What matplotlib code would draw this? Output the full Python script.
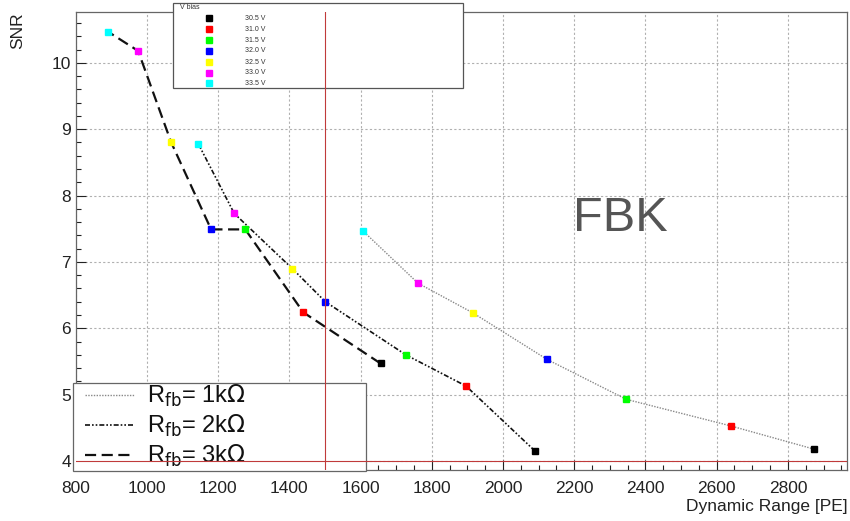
import matplotlib
matplotlib.use("Agg")
import matplotlib.pyplot as plt
from matplotlib.patches import Rectangle
from matplotlib.lines import Line2D
from matplotlib.ticker import MultipleLocator

plt.rcParams['font.family'] = ['Liberation Sans', 'DejaVu Sans']

vbias_labels = ["30.5 V", "31.0 V", "31.5 V", "32.0 V", "32.5 V", "33.0 V", "33.5 V"]
vbias_colors = ["#000000", "#ff0000", "#00ff00", "#0000ff", "#ffff00", "#ff00ff", "#00ffff"]

# points ordered from 30.5 V to 33.5 V
dr_1k = [2873, 2639, 2346, 2124, 1916, 1761, 1606]
snr_1k = [4.18, 4.53, 4.93, 5.53, 6.23, 6.68, 7.47]
dr_2k = [2090, 1896, 1727, 1501, 1408, 1245, 1144]
snr_2k = [4.15, 5.13, 5.60, 6.40, 6.90, 7.73, 8.78]
dr_3k = [1656, 1439, 1276, 1180, 1068, 975, 890]
snr_3k = [5.47, 6.24, 7.49, 7.49, 8.80, 10.18, 10.47]

series_labels = [r"R$_{\rm fb}$= 1k$\Omega$", r"R$_{\rm fb}$= 2k$\Omega$", r"R$_{\rm fb}$= 3k$\Omega$"]

W, H = 850, 521
fig = plt.figure(figsize=(W / 100, H / 100), dpi=100)
L, R, T, B = 75.8, 847, 11.7, 470
ax = fig.add_axes([L / W, 1 - B / H, (R - L) / W, (B - T) / H])
ax.set_xlim(800, 2966)
ax.set_ylim(3.865, 10.77)

ax.grid(True, which='major', color='#b0b0b0', linestyle=(0, (2, 2)), linewidth=0.8)
ax.set_axisbelow(True)
ax.xaxis.set_major_locator(MultipleLocator(200))
ax.xaxis.set_minor_locator(MultipleLocator(50))
ax.yaxis.set_major_locator(MultipleLocator(1))
ax.yaxis.set_minor_locator(MultipleLocator(0.2))
ax.tick_params(which='both', direction='in', top=False, right=False, labelsize=12.5, colors='#222222')
ax.tick_params(which='major', length=7, width=0.8)
ax.tick_params(which='minor', length=3.5, width=0.8)
ax.tick_params(axis='x', pad=8)
for s in ax.spines.values():
    s.set_color('#666666')
    s.set_linewidth(0.9)

line_styles = [
    dict(color='#888888', linestyle=(0, (1, 1)), linewidth=1.0),
    dict(color='#111111', linestyle=(0, (3, 1.2, 1, 1.2, 1, 1.2)), linewidth=1.2),
    dict(color='#111111', linestyle=(0, (5, 2.5)), linewidth=1.6),
]
for (xs, ys), st in zip([(dr_1k, snr_1k), (dr_2k, snr_2k), (dr_3k, snr_3k)], line_styles):
    ax.plot(xs, ys, zorder=3, **st)
    for x, y, c in zip(xs, ys, vbias_colors):
        ax.plot([x], [y], marker='s', markersize=5.0, color=c, markeredgecolor=c, linestyle='none', zorder=4)

ft = fig.transFigure
def fx(px):
    return px / W
def fy(py):
    return 1 - py / H

fig.text(fx(620), fy(218), "FBK", fontsize=35, color='#555555', ha='center', va='center')

# Top legend (V bias)
ax.add_patch(Rectangle((fx(172.7), fy(88)), fx(463) - fx(172.7), fy(2.7) - fy(88), transform=ft,
                       facecolor='white', edgecolor='#555555', linewidth=0.9, clip_on=False, zorder=6))
ax.text(fx(180), fy(7.5), "V bias", transform=ft, fontsize=5, ha='left', va='center', zorder=7, color='#333333')
rows = [18.3, 29.3, 40.3, 51.0, 62.0, 72.7, 83.3]
for py, c, lab in zip(rows, vbias_colors, vbias_labels):
    ax.add_line(Line2D([fx(209)], [fy(py)], transform=ft, marker='s', markersize=5, color=c,
                       linestyle='none', clip_on=False, zorder=7))
    ax.text(fx(245), fy(py), lab, transform=ft, fontsize=5, ha='left', va='center', zorder=7, color='#333333')

# Bottom legend (Rfb)
ax.add_patch(Rectangle((fx(72.7), fy(470.7)), fx(365.7) - fx(72.7), fy(383.3) - fy(470.7), transform=ft,
                       facecolor='white', edgecolor='#666666', linewidth=0.9, clip_on=False, zorder=6))
rows2 = [395, 425, 455]
for py, st, lab in zip(rows2, line_styles, series_labels):
    ax.add_line(Line2D([fx(85), fx(135)], [fy(py), fy(py)], transform=ft, clip_on=False, zorder=7, **st))
    ax.text(fx(147), fy(py + 1), lab, transform=ft, fontsize=17, ha='left', va='center', zorder=7, color='#111111')

# red reference lines
ax.axvline(1500, color='#c03a3a', linewidth=0.8, zorder=8)
ax.axhline(4.0, color='#c03a3a', linewidth=0.8, zorder=8)

fig.text(fx(18), fy(12), "SNR", rotation=90, fontsize=12.5, ha='center', va='top', color='#222222')
fig.text(fx(848), fy(507), "Dynamic Range [PE]", fontsize=12.5, ha='right', va='center', color='#222222')

fig.savefig("out.png", dpi=100)
